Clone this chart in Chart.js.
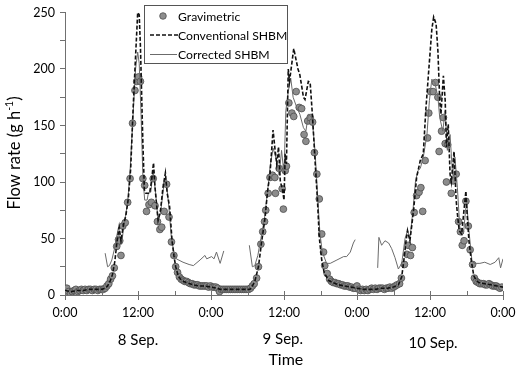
<!DOCTYPE html>
<html>
<head>
<meta charset="utf-8">
<script src="https://cdn.jsdelivr.net/npm/chart.js@4.4.1/dist/chart.umd.min.js"></script>
<style>
  body { margin: 0; background: #fff; }
  #wrap { width: 526px; height: 369px; }
</style>
</head>
<body>
<div id="wrap"><canvas id="myChart" width="526" height="369"></canvas></div>
<script>
// hours since 8 Sep 0:00, flow rate in g/h
const gravimetric = [
  [0,4],[0.3,6],[0.6,3],[0.9,1],[1.2,3],[1.5,4],[1.8,5],[2.1,3],[2.4,4],[2.7,5],[3.0,4],[3.3,5],
  [3.6,4],[3.9,5],[4.2,5],[4.5,4],[4.8,5],[5.1,5],[5.4,4],[5.7,5],[6.0,5],[6.3,5],[6.6,6],[6.9,8],
  [7.2,10],[7.5,14],[7.8,17],[8.1,24],[8.5,43],[8.8,49],[9.0,48],[9.2,35],[9.5,61],[9.9,64],
  [10.3,82],[10.7,103],[11.1,152],[11.5,181],[11.8,189],[12.1,193],[12.4,189],[12.8,103],[13.1,97],
  [13.4,74],[13.8,80],[14.2,82],[14.5,103],[14.8,79],[15.2,65],[15.6,58],[15.9,60],[16.3,74],
  [16.7,98],[17.1,69],[17.5,47],[17.9,35],[18.2,25],[18.5,20],[18.8,16],[19.1,14],[19.4,13],
  [19.7,12],[20.0,12],[20.3,11],[20.6,10],[20.9,10],[21.2,9],[21.5,9],[21.8,9],[22.1,8],[22.4,8],
  [22.7,8],[23.0,8],[23.3,8],[23.6,7],[23.9,8],[24.2,7],[24.5,7],[24.8,7],[25.1,6],[25.4,3],
  [25.7,5],[26.0,5],[26.3,5],[26.6,5],[26.9,5],[27.2,5],[27.5,5],[27.8,5],[28.1,5],[28.4,5],
  [28.7,5],[29.0,5],[29.3,5],[29.6,5],[29.9,5],[30.2,5],[30.5,6],[30.8,8],[31.1,10],[31.5,15],
  [31.8,25],[32.2,45],[32.5,56],[32.8,65],[33.0,75],[33.4,90],[33.7,104],[34.1,106],[34.5,104],
  [34.6,90],[35.2,112],[35.7,94],[35.9,76],[36.2,110],[36.4,114],[36.8,170],[37.3,161],[37.6,158],
  [38.0,180],[38.5,166],[38.9,165],[39.3,142],[39.6,136],[39.9,154],[40.3,157],[40.7,153],
  [41.0,126],[41.4,107],[41.8,85],[42.2,54],[42.5,38],[42.7,26],[43.1,19],[43.5,14],[43.8,12],
  [44.1,11],[44.4,11],[44.7,10],[45.0,10],[45.3,9],[45.6,9],[45.9,8],[46.2,8],[46.5,8],[46.8,7],
  [47.1,7],[47.4,6],[47.7,6],[48.0,8],[48.3,5],[48.6,4],[48.9,5],[49.2,4],[49.5,5],[49.8,4],
  [50.1,5],[50.4,6],[50.7,5],[51.0,6],[51.3,5],[51.6,6],[51.9,6],[52.2,6],[52.5,5],[52.8,6],
  [53.1,6],[53.4,7],[53.7,6],[54.0,7],[54.3,8],[54.6,9],[55.0,10],[55.3,15],[55.8,27],[56.2,36],
  [56.4,44],[56.8,35],[57.1,42],[57.4,73],[57.8,88],[58.2,91],[58.5,95],[58.8,74],[59.2,119],
  [59.6,139],[59.8,161],[60.1,180],[60.5,180],[60.9,188],[61.3,175],[61.5,127],[61.9,145],
  [62.2,157],[62.5,134],[62.7,100],[62.9,133],[63.5,90],[63.8,101],[64.3,107],[64.7,65],[65.0,56],
  [65.3,44],[65.6,48],[65.9,83],[66.3,61],[66.6,40],[67.0,27],[67.3,15],[67.6,12],[67.9,11],
  [68.2,10],[68.5,10],[68.8,10],[69.1,9],[69.4,9],[69.7,10],[70.0,9],[70.3,8],[70.6,8],[70.9,8],
  [71.2,7],[71.5,6],[71.8,7]
];

const conventional = [
  [0,4],[1,3],[2,4],[3,4],[4,5],[5,5],[6,5],[6.6,6],[7.0,8],[7.4,12],[7.8,18],[8.2,30],[8.5,45],
  [8.9,60],[9.2,48],[9.6,62],[10.0,70],[10.4,85],[10.8,112],[11.2,165],[11.5,200],[11.95,250],
  [12.2,248],[12.4,220],[12.8,135],[13.05,93],[13.3,90],[13.9,90],[14.2,100],[14.55,117],[14.8,95],
  [15.3,66],[15.7,75],[16.1,95],[16.5,108],[16.8,90],[17.2,78],[17.6,48],[17.9,35],[18.2,25],
  [18.6,17],[19.0,14],[19.5,12],[20,11],[21,9],[22,8],[23,8],[24,7],[25,6],[25.5,5],[26,5],
  [27,5],[28,5],[29,5],[30,5],[30.4,5],[30.8,8],[31.2,12],[31.8,25],[32.3,46],[32.9,69],[33.3,92],
  [33.7,107],[34.2,146],[34.5,130],[34.8,116],[35.1,131],[35.4,100],[35.7,95],[36.0,84],[36.2,125],
  [36.4,116],[36.7,200],[36.9,189],[37.6,218],[38.3,200],[38.6,195],[39.2,175],[39.45,173],
  [40.0,189],[40.3,188],[40.7,157],[41.1,119],[41.5,84],[41.8,51],[42.2,31],[42.6,20],[43.3,13],
  [44,11],[45,9],[46,8],[47,7],[48,6],[49,5],[50,5],[51,5],[52,6],[53,6],[54,7],[54.8,9],
  [55.35,16],[55.8,35],[56.06,48],[56.3,57],[56.7,48],[57.3,75],[57.8,104],[58.4,119],[58.9,125],
  [59.3,163],[59.7,192],[60.3,235],[60.6,246],[61.0,240],[61.3,216],[61.6,172],[61.8,160],
  [62.2,194],[62.5,172],[62.7,131],[63.0,151],[63.3,107],[63.5,100],[63.95,127],[64.3,84],
  [64.5,72],[64.8,57],[65.2,54],[65.9,92],[66.1,72],[66.4,48],[66.8,30],[67.2,17],[67.6,13],
  [68,11],[69,10],[70,9],[71,8],[72,7]
];

const correctedDay1 = [
  [6.6,37],[7.0,25],[7.3,26],[7.7,31],[8.1,40],[8.5,52],[8.8,60],[9.1,50],[9.3,45],[9.7,62],
  [10.3,82],[10.7,110],[11.2,160],[11.6,200],[11.95,215],[12.2,205],[12.5,160],[12.8,105],
  [13.1,84],[13.5,84],[13.7,90],[14.1,91],[14.5,110],[14.9,90],[15.3,66],[15.7,72],[16.2,95],
  [16.6,102],[17.0,82],[17.5,50],[17.9,38],[18.3,32],[19.4,29],[20.4,27],[21.1,26],[22.2,31],
  [23.0,35],[23.3,32],[24.1,34],[24.5,32],[24.9,38],[25.5,28],[26.1,39]
];
const correctedDay2 = [
  [30.3,44],[30.8,25],[31.2,26],[31.7,35],[32.2,50],[32.8,68],[33.3,92],[33.7,113],[34.2,130],
  [34.8,119],[35.2,106],[35.6,128],[36.0,107],[36.3,163],[36.7,180],[37.1,192],[37.5,175],
  [38.1,166],[38.6,160],[39.2,148],[39.6,145],[40.0,160],[40.6,157],[41.1,128],[41.5,90],
  [41.9,55],[42.3,38],[43.0,28],[43.6,28],[44.7,31],[45.8,34],[46.3,34],[46.9,38],[47.4,46],[47.7,49]
];
const correctedDay3 = [
  [51.4,24],[51.6,51],[52.05,44],[52.6,48],[53.2,46],[53.7,41],[54.25,33],[54.8,23],[55.35,28],
  [55.9,50],[56.3,57],[56.7,50],[57.2,75],[57.6,100],[58.0,110],[58.4,112],[58.9,122],[59.5,142],
  [59.9,172],[60.3,191],[60.8,188],[61.3,175],[61.6,157],[62.1,145],[62.5,163],[62.85,128],
  [63.3,142],[63.7,107],[64.1,122],[64.5,95],[64.9,60],[65.5,54],[66.0,84],[66.4,57],[66.9,30],
  [67.3,28],[68.2,28],[69.0,29],[69.9,27],[70.7,29],[71.3,33],[71.6,24],[72.0,32]
];

const timeTicks = [0, 12, 24, 36, 48, 60, 72];
const timeTickLabels = ['0:00', '12:00', '0:00', '12:00', '0:00', '12:00', '0:00'];
const flowTicks = [0, 50, 100, 150, 200, 250];
const dayLabels = ['8 Sep.', '9 Sep.', '10 Sep.'];
const dayLabelHours = [12, 35.8, 60.5];
const seriesNames = ['Gravimetric', 'Conventional SHBM', 'Corrected SHBM'];

const FONT = 'Lato, "Open Sans", sans-serif';
const toXY = arr => arr.map(p => ({ x: p[0], y: p[1] }));
const correctedData = [
  ...toXY(correctedDay1), { x: 26.5, y: null },
  ...toXY(correctedDay2), { x: 50, y: null },
  ...toXY(correctedDay3)
];

const extras = {
  id: 'extras',
  afterDraw(chart) {
    const ctx = chart.ctx;
    const xs = chart.scales.x, ys = chart.scales.y;
    const y0 = ys.getPixelForValue(0);
    ctx.save();
    // x tick marks: long ones cross the axis, short ones sit inside
    ctx.strokeStyle = '#707070';
    ctx.lineWidth = 1;
    for (let h = 0; h <= 72; h += 6) {
      const px = Math.round(xs.getPixelForValue(h)) + 0.5;
      ctx.beginPath();
      if (h % 12 === 0) { ctx.moveTo(px, y0 - 4); ctx.lineTo(px, y0 + 5); }
      else { ctx.moveTo(px, y0 - 4); ctx.lineTo(px, y0); }
      ctx.stroke();
    }
    // day labels + axis title
    ctx.fillStyle = '#000';
    ctx.textAlign = 'center';
    ctx.textBaseline = 'middle';
    ctx.font = '15px ' + FONT;
    const dayY = [340, 339, 343];
    dayLabels.forEach((d, i) => ctx.fillText(d, xs.getPixelForValue(dayLabelHours[i]), dayY[i]));
    ctx.font = '16px ' + FONT;
    ctx.fillText('Time', xs.getPixelForValue(36.3), 360);

    // y title with superscript
    ctx.save();
    ctx.translate(15, 153);
    ctx.rotate(-Math.PI / 2);
    const main = 'Flow rate (g h', sup = '-1', end = ')';
    ctx.font = '16.5px ' + FONT;
    const wMain = ctx.measureText(main).width, wEnd = ctx.measureText(end).width;
    ctx.font = '10.5px ' + FONT;
    const wSup = ctx.measureText(sup).width;
    const sx = -(wMain + wSup + wEnd) / 2;
    ctx.textAlign = 'left';
    ctx.font = '16.5px ' + FONT;
    ctx.fillText(main, sx, 0);
    ctx.font = '10.5px ' + FONT;
    ctx.fillText(sup, sx + wMain, -5);
    ctx.font = '16.5px ' + FONT;
    ctx.fillText(end, sx + wMain + wSup, 0);
    ctx.restore();

    // legend box
    ctx.fillStyle = '#fff';
    ctx.fillRect(144.5, 5.5, 143, 58);
    ctx.strokeStyle = '#555';
    ctx.lineWidth = 1;
    ctx.strokeRect(144.5, 5.5, 143, 58);
    const rows = [16, 35, 54];
    ctx.beginPath();
    ctx.arc(163, rows[0], 3.3, 0, Math.PI * 2);
    ctx.fillStyle = '#8e8e8e';
    ctx.fill();
    ctx.strokeStyle = '#505050';
    ctx.lineWidth = 0.8;
    ctx.stroke();
    ctx.beginPath();
    ctx.setLineDash([4, 2]);
    ctx.strokeStyle = '#111';
    ctx.lineWidth = 1.6;
    ctx.moveTo(150, rows[1]); ctx.lineTo(178, rows[1]);
    ctx.stroke();
    ctx.setLineDash([]);
    ctx.beginPath();
    ctx.strokeStyle = '#6b6b6b';
    ctx.lineWidth = 1;
    ctx.moveTo(150, rows[2] + 0.5); ctx.lineTo(177, rows[2] + 0.5);
    ctx.stroke();
    ctx.font = '12.2px ' + FONT;
    ctx.textAlign = 'left';
    ctx.fillStyle = '#000';
    seriesNames.forEach((n, i) => ctx.fillText(n, 178, rows[i] + 1));
    ctx.restore();
  }
};

const ctx = document.getElementById('myChart').getContext('2d');
new Chart(ctx, {
  type: 'line',
  data: {
    datasets: [
      {
        label: seriesNames[0],
        data: toXY(gravimetric),
        showLine: false,
        pointRadius: 3.4,
        pointBackgroundColor: '#8c8c8c',
        pointBorderColor: '#4e4e4e',
        pointBorderWidth: 0.8,
        order: 3
      },
      {
        label: seriesNames[1],
        data: toXY(conventional),
        borderColor: '#111',
        borderWidth: 1.6,
        borderDash: [4, 2],
        pointRadius: 0,
        tension: 0,
        order: 1
      },
      {
        label: seriesNames[2],
        data: correctedData,
        borderColor: '#6b6b6b',
        borderWidth: 1,
        pointRadius: 0,
        spanGaps: false,
        tension: 0,
        order: 2
      }
    ]
  },
  options: {
    responsive: false,
    animation: false,
    layout: { padding: { top: 11, right: 23, left: 0, bottom: 0 } },
    plugins: { legend: { display: false }, tooltip: { enabled: false } },
    scales: {
      x: {
        type: 'linear',
        min: 0, max: 72,
        grid: { display: false, drawTicks: false },
        border: { display: true, color: '#707070', width: 1 },
        ticks: {
          stepSize: 6,
          autoSkip: false,
          maxRotation: 0,
          padding: 10,
          color: '#000',
          font: { family: FONT, size: 12.5 },
          callback: v => {
            const i = timeTicks.indexOf(v);
            return i >= 0 ? timeTickLabels[i] : '';
          }
        },
        afterFit: s => { s.height = 74; }
      },
      y: {
        min: 0, max: 250,
        grid: { drawOnChartArea: false, tickLength: 5, color: '#707070' },
        border: { display: true, color: '#707070', width: 1 },
        ticks: {
          stepSize: 25,
          autoSkip: false,
          padding: 5,
          color: '#000',
          font: { family: FONT, size: 12.5 },
          callback: v => flowTicks.includes(v) ? String(v) : ''
        },
        afterFit: s => { s.width = 65; }
      }
    }
  },
  plugins: [extras]
});
</script>
</body>
</html>
